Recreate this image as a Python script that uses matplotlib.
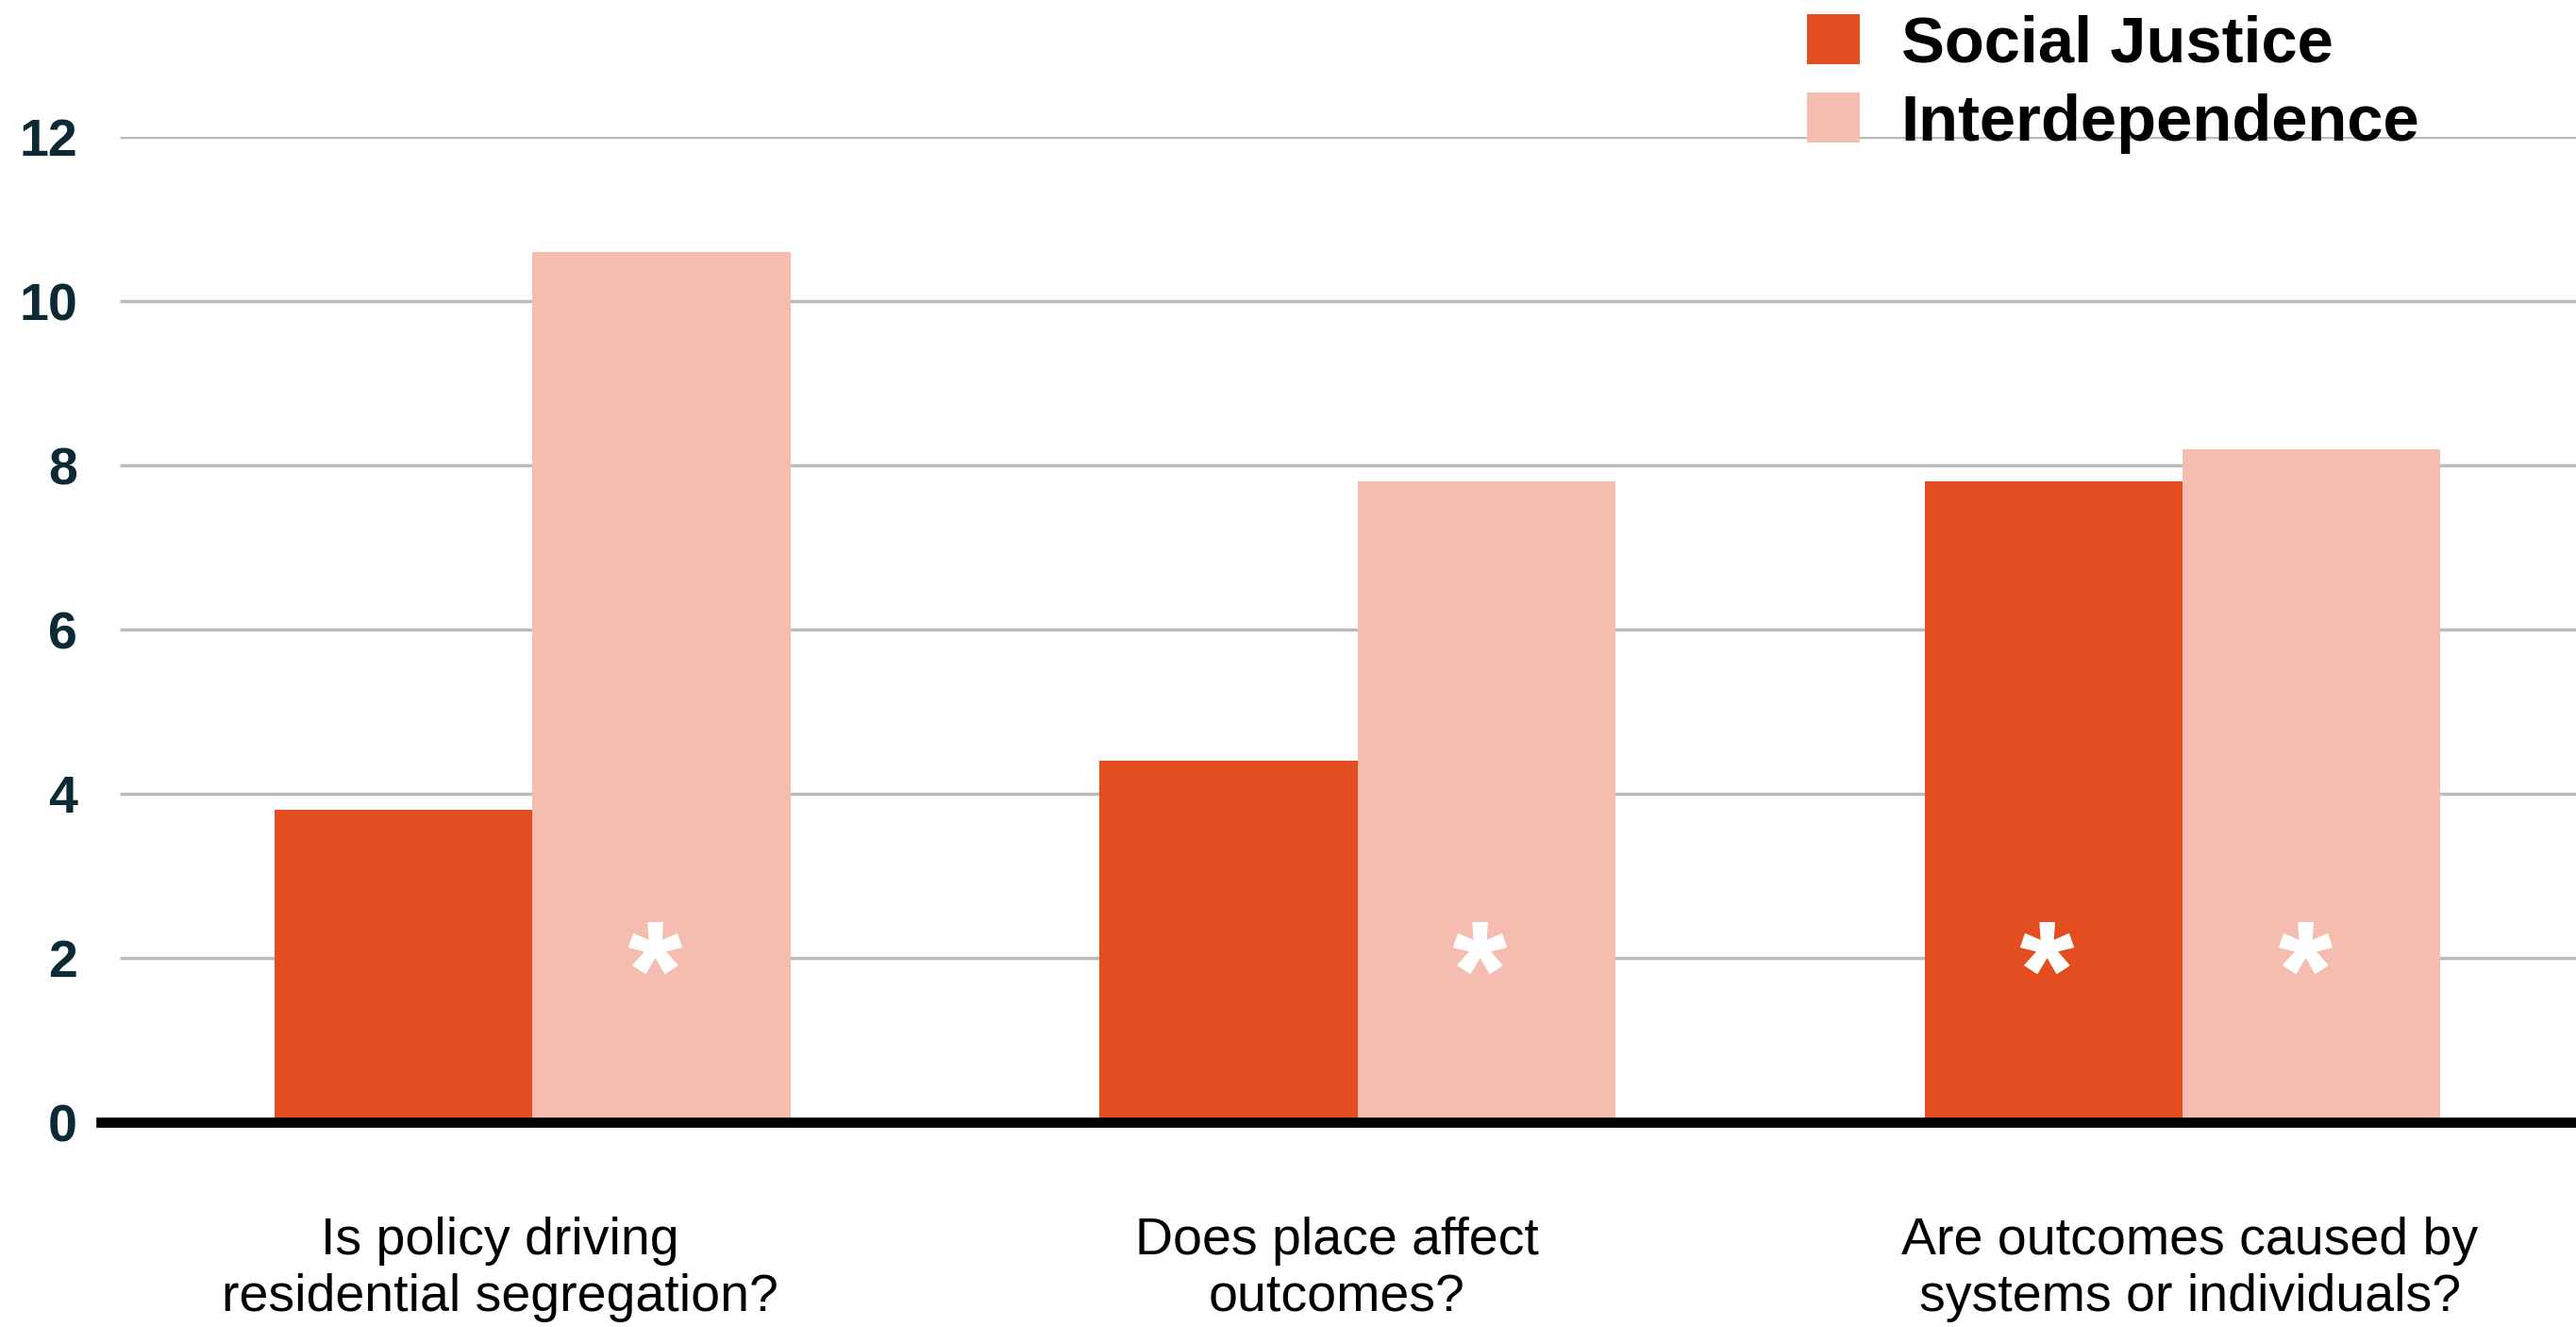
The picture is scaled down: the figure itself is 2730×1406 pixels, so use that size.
import numpy as np
import matplotlib
matplotlib.use("Agg")
import matplotlib.pyplot as plt
from matplotlib.path import Path
from matplotlib.textpath import TextPath
from matplotlib.font_manager import FontProperties

# Survey questions and mean scores per frame
questions = ["Is policy driving\nresidential segregation?",
             "Does place affect\noutcomes?",
             "Are outcomes caused by\nsystems or individuals?"]
series_names = ["Social Justice", "Interdependence"]
social_justice = [3.8, 4.4, 7.8]
interdependence = [10.6, 7.8, 8.2]
# significant differences flagged with an asterisk
sig_social = [False, False, True]
sig_interdep = [True, True, True]
y_ticks = [0, 2, 4, 6, 8, 10, 12]

RED = "#e34d20"
PINK = "#f4bdaf"
NAVY = "#0b2a35"
FONT = "Liberation Sans"

fig = plt.figure(figsize=(27.3, 14.06), dpi=100)
ax = fig.add_axes([107 / 2730, 217 / 1406, 1 - 107 / 2730, 1044 / 1406])

x = np.arange(len(questions))
w = 0.3125
ax.bar(x - w / 2, social_justice, w, color=RED, label=series_names[0], zorder=2)
ax.bar(x + w / 2, interdependence, w, color=PINK, label=series_names[1], zorder=2)

ax.set_xlim(-0.523, 2.477)
ax.set_ylim(0, 12)

# light gridlines start a little to the right of the baseline
ax.hlines(y_ticks[1:], -0.5, 2.477, color="#bbbbbb", lw=2.5, zorder=0)
ax.axhline(0, color="black", lw=7.7, zorder=3, clip_on=False)

for s in ax.spines.values():
    s.set_visible(False)

ax.set_yticks(y_ticks)
ax.set_yticklabels([str(v) for v in y_ticks], fontfamily=FONT,
                   fontweight="bold", fontsize=40, color=NAVY)
ax.tick_params(axis="y", length=0, pad=18)

# category labels, nudged slightly the way they sit under each group
label_shift = [-0.039, -0.025, 0.009]
ax.set_xticks(x + np.array(label_shift))
ax.set_xticklabels(questions, fontfamily=FONT, fontsize=40, color="black",
                   linespacing=1.2)
ax.tick_params(axis="x", length=0, pad=72)

# bold asterisk glyph as a centred marker
tp = TextPath((0, 0), "*", size=1, prop=FontProperties(family=FONT, weight="bold"))
verts = tp.vertices.copy()
codes = tp.codes
start = 0
for i, c in enumerate(codes):
    if c == Path.MOVETO:
        start = i
    elif c == Path.CLOSEPOLY:
        verts[i] = verts[start]
verts -= (verts.min(axis=0) + verts.max(axis=0)) / 2
star = Path(verts, codes)

star_y = 2.13
for i in range(len(questions)):
    if sig_social[i]:
        ax.plot(i - w / 2 - 0.008, star_y, marker=star, ms=40, color="white",
                ls="none", zorder=4)
    if sig_interdep[i]:
        ax.plot(i + w / 2 - 0.008, star_y, marker=star, ms=40, color="white",
                ls="none", zorder=4)

leg = fig.legend(loc="upper left", bbox_to_anchor=(1915 / 2730, 1 - 15 / 1406),
                 frameon=False, borderpad=0, borderaxespad=0,
                 handlelength=0.82, handleheight=0.8, handletextpad=0.63,
                 labelspacing=0.28,
                 prop=FontProperties(family=FONT, weight="bold", size=49.5))

fig.savefig("out.png", dpi=100)
